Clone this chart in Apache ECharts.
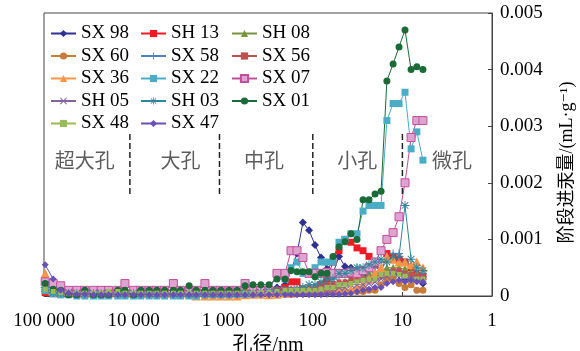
<!DOCTYPE html>
<html>
<head>
<meta charset="utf-8">
<script src="https://cdn.jsdelivr.net/npm/echarts@6/dist/echarts.min.js"></script>
<style>
html, body { margin: 0; padding: 0; background: #fff; }
#chart { width: 580px; height: 351px; }
</style>
</head>
<body>
<div id="chart"></div>
<script>
// pore diameter (nm), shared by all samples
const poreSize = [97000, 79000, 65000, 53000, 43000, 35000, 28000, 23000, 19000, 15000, 12500, 10000, 8300, 6700, 5500, 4500, 3600, 3000, 2400, 2000, 1600, 1300, 1060, 860, 700, 570, 465, 380, 308, 251, 204,
  175, 150, 129, 110, 94.5, 81, 69.4, 59.5, 51, 43.7, 37.5, 32.1, 27.5, 23.6, 20.2, 17.3, 14.9, 12.7, 10.9, 9.35, 8.0, 6.9, 5.9]

// stage intrusion volume (mL/g)
const sx98 = [0.00008, 0.00006, 0.00005, 0.00005, 0.00004, 0.00005, 0.00004, 0.00005, 0.00004, 0.00005, 0.00004, 0.00005, 0.00004, 0.00004, 0.00005, 0.00004, 0.00004, 0.00005, 0.00004, 0.00004, 0.00005, 0.00004, 0.00004, 0.00005, 0.00006, 0.00005, 0.00006, 0.00008, 0.0001, 0.00015, 0.0002,
  0.00045, 0.00075, 0.0013, 0.00116, 0.0009, 0.00068, 0.00048, 0.0004, 0.0007, 0.00052, 0.0005, 0.0004, 0.00035, 0.0003, 0.0003, 0.00038, 0.00045, 0.0004, 0.00038, 0.0003, 0.0003, 0.00028, 0.00022]
const sh13 = [0.00006, 0.00004, 0.00003, 0.00003, 0.00003, 0.00003, 0.00003, 0.00003, 0.00003, 0.00003, 0.00003, 0.00003, 0.00003, 0.00003, 0.00003, 0.00003, 0.00003, 0.00003, 0.00003, 0.00003, 0.00003, 0.00003, 0.00003, 0.00003, 0.00004, 0.00004, 0.00005, 0.00006, 0.00008, 0.0001, 0.00015,
  0.00025, 0.00025, 0.0001, 0.0001, 0.0001, 0.0002, 0.0003, 0.0006, 0.0008, 0.001, 0.00095, 0.00085, 0.0008, 0.0007, 0.00055, 0.0004, 0.00075, 0.0007, 0.00065, 0.0006, 0.0005, 0.0004, 0.00035]
const sh08 = [0.0001, 0.00008, 0.00006, 0.00005, 0.00005, 0.00005, 0.00005, 0.00006, 0.00005, 0.00005, 0.00005, 0.00006, 0.00005, 0.00005, 0.00005, 0.00005, 0.00006, 0.00005, 0.00005, 0.00005, 0.00005, 0.00006, 0.00005, 0.00005, 0.00005, 0.00006, 0.00006, 0.00007, 0.00008, 0.0001, 0.0001,
  0.0001, 0.0001, 0.00012, 0.0001, 0.00012, 0.00015, 0.00015, 0.0002, 0.0002, 0.00025, 0.0003, 0.0003, 0.00035, 0.0004, 0.00042, 0.00045, 0.0005, 0.0005, 0.0005, 0.00048, 0.00042, 0.0004, 0.00035]
const sx60 = [0.0003, 0.00012, 0.00008, 0.00006, 0.00005, 0.00005, 0.00004, 0.00004, 0.00005, 0.00004, 0.00004, 0.00004, 0.00005, 0.00004, 0.00004, 0.00004, 0.00004, 0.00005, 0.00004, 0.00004, 0.00004, 0.00004, 0.00005, 0.00004, 0.00004, 0.00004, 0.00005, 0.00005, 0.00006, 0.00006, 0.00007,
  0.00006, 0.00006, 0.00006, 0.00005, 0.00005, 0.00006, 0.00006, 0.00006, 0.00007, 0.00007, 0.00008, 0.00008, 0.00008, 0.0001, 0.0001, 0.0002, 0.0003, 0.0003, 0.00022, 0.00015, 0.0002, 0.0001, 0.0001]
const sx58 = [0.00012, 0.00008, 0.00006, 0.00005, 0.00005, 0.00005, 0.00005, 0.00005, 0.00005, 0.00005, 0.00005, 0.00005, 0.00005, 0.00005, 0.00005, 0.00005, 0.00005, 0.00005, 0.00005, 0.00005, 0.00005, 0.00005, 0.00005, 0.00005, 0.00005, 0.00005, 0.00006, 0.00006, 0.00008, 0.0001, 0.0001,
  0.0001, 0.0001, 0.00012, 0.0001, 0.00015, 0.0002, 0.00022, 0.0003, 0.00035, 0.0004, 0.00045, 0.0005, 0.0004, 0.00045, 0.0005, 0.0006, 0.0006, 0.00075, 0.00075, 0.0006, 0.00055, 0.00045, 0.0004]
const sx56 = [0.0001, 0.0001, 0.0001, 0.0001, 0.0001, 0.0001, 0.0001, 0.00012, 0.00012, 0.0001, 0.0001, 0.0001, 0.0001, 0.0001, 0.0001, 0.0001, 0.0001, 0.0001, 0.0001, 0.0001, 0.0001, 0.0001, 0.0001, 0.0001, 0.0001, 0.0001, 0.0001, 0.0001, 0.00011, 0.00012, 0.00012,
  0.00012, 0.00012, 0.00015, 0.00015, 0.00015, 0.0002, 0.0002, 0.00022, 0.00025, 0.00025, 0.0003, 0.0003, 0.0003, 0.00032, 0.00035, 0.00035, 0.0004, 0.00045, 0.00045, 0.0004, 0.00038, 0.00035, 0.00035]
const sx36 = [0.0004, 0.00015, 0.0001, 0.00008, 0.00006, 0.00005, 0.00005, 0.00005, 0.00005, 0.00005, 0.00005, 0.00005, 0.00005, 0.00005, 0.00005, 0.00005, 0.00005, 0.00005, 0.00003, 0, 0, 0, 0, 0, 0, 0.00002, 0.00003, 0.00003, 0.00002, 0.00003, 0.00005,
  0.00005, 0.0001, 0.00012, 0.0001, 0.00008, 0.0001, 0.0001, 0.00012, 0.0001, 0.0001, 0.00012, 0.00015, 0.0002, 0.0003, 0.0004, 0.0005, 0.0007, 0.00065, 0.0006, 0.0006, 0.00055, 0.0006, 0.0005]
const sx22 = [0.0001, 0.00004, 0.00002, 0.00002, 0, 0, 0, 0, 0, 0, 0, 0, 0, 0, 0, 0, 0, 0, 0, 0, 0.00002, 0.00002, 0.00002, 0.00002, 0.00003, 0.00003, 0.00004, 0.00005, 0.0001, 0.0004, 0.0003,
  0.0005, 0.0006, 0.0004, 0.0004, 0.0005, 0.0006, 0.0006, 0.0006, 0.00095, 0.001, 0.0011, 0.0011, 0.0015, 0.0016, 0.0016, 0.0016, 0.0031, 0.0034, 0.0034, 0.0036, 0.0026, 0.0029, 0.0024]
const sx07 = [0.00025, 0.00022, 0.00018, 0.0001, 0.0001, 0.0001, 0.0001, 0.0001, 0.0001, 0.0001, 0.00022, 0.0001, 0.0001, 0.0001, 0.0001, 0.0001, 0.00022, 0.0001, 0.0001, 0.0001, 0.00022, 0.0001, 0.0001, 0.0001, 0.0001, 0.00022, 0.0001, 0.0001, 0.0001, 0.0004, 0.0004,
  0.0008, 0.0008, 0.00068, 0.0004, 0.0004, 0.0004, 0.00042, 0.0004, 0.0004, 0.0004, 0.00042, 0.0004, 0.00045, 0.0005, 0.0006, 0.0008, 0.001, 0.00112, 0.0014, 0.002, 0.0028, 0.0031, 0.0031]
const sh05 = [0.0002, 0.0001, 0.00008, 0.00006, 0.00005, 0.00005, 0.00005, 0.00005, 0.00005, 0.00005, 0.00005, 0.00005, 0.00005, 0.00005, 0.00005, 0.00005, 0.00005, 0.00005, 0.00005, 0.00005, 0.00005, 0.00005, 0.00005, 0.00005, 0.00005, 0.00005, 0.00005, 0.00006, 0.00006, 0.00008, 0.0001,
  0.00005, 0.00005, 0.00008, 0.0001, 0.0001, 0.0001, 0.00012, 0.00012, 0.00015, 0.00015, 0.0002, 0.0002, 0.0002, 0.00022, 0.00025, 0.0003, 0.00035, 0.0004, 0.00038, 0.00035, 0.0003, 0.0003, 0.00028]
const sh03 = [0.00015, 0.00006, 0.00005, 0.00004, 0.00004, 0.00004, 0.00004, 0.00004, 0.00004, 0.00004, 0.00004, 0.00004, 0.00004, 0.00004, 0.00004, 0.00004, 0.00004, 0.00004, 0.00004, 0.00004, 0.00004, 0.00004, 0.00004, 0.00004, 0.00004, 0.00005, 0.00005, 0.00006, 0.00008, 0.0001, 0.0001,
  0.0001, 0.00012, 0.00015, 0.0002, 0.0002, 0.00025, 0.0003, 0.0003, 0.0004, 0.0004, 0.00045, 0.0005, 0.0005, 0.00055, 0.0006, 0.00065, 0.0006, 0.0007, 0.0007, 0.0016, 0.00065, 0.0005, 0.00045]
const sx01 = [0.00022, 0.00012, 0.0001, 0.00002, 0.00002, 0.0001, 0.00002, 0.00002, 0.00002, 0.0001, 0.0001, 0.00002, 0.0001, 0.0001, 0.0001, 0.0001, 0.0001, 0.0001, 0.00018, 0.0001, 0.0001, 0.0001, 0.0001, 0.0001, 0.0001, 0.00018, 0.0002, 0.0002, 0.0002, 0.0003, 0.0003,
  0.00045, 0.00043, 0.00043, 0.00043, 0.00034, 0.0004, 0.0004, 0.0007, 0.00087, 0.00096, 0.0011, 0.001, 0.0017, 0.0017, 0.0018, 0.00185, 0.0038, 0.0041, 0.0044, 0.0047, 0.004, 0.00405, 0.004]
const sx48 = [0.00012, 0.00008, 0.00006, 0.00005, 0.00005, 0.00005, 0.00005, 0.00005, 0.00008, 0.00008, 0.00005, 0.00005, 0.00005, 0.00005, 0.00005, 0.00005, 0.00005, 0.00005, 0.00005, 0.00005, 0.00005, 0.00005, 0.00005, 0.00005, 0.00005, 0.00005, 0.00005, 0.00006, 0.00006, 0.00008, 0.0001,
  0.0001, 0.0001, 0.0001, 0.0001, 0.0001, 0.00012, 0.00015, 0.00015, 0.0002, 0.0002, 0.00022, 0.00025, 0.00028, 0.0003, 0.0003, 0.00038, 0.0004, 0.0004, 0.00038, 0.00035, 0.00028, 0.0003, 0.0003]
const sx47 = [0.00055, 0.0003, 0.0001, 0.00005, 0.00003, 0.00003, 0.00002, 0.00002, 0.00002, 0.00002, 0.00002, 0.00002, 0.00002, 0.00002, 0.00002, 0.00002, 0.00002, 0.00002, 0.00002, 0.00002, 0.00002, 0.00002, 0.00002, 0.00002, 0.00002, 0.00002, 0.00002, 0.00002, 0.00002, 0.00002, 0.00002,
  0.00002, 0.00002, 0.00002, 0.00002, 0.00002, 0.00002, 0.00003, 0.00003, 0.00003, 0.00004, 0.00005, 0.00008, 0.0001, 0.00012, 0.00015, 0.00015, 0.00022, 0.00025, 0.00028, 0.00025, 0.00028, 0.00025, 0.00025]

const sampleNames = ['SX 98', 'SH 13', 'SH 08', 'SX 60', 'SX 58', 'SX 56', 'SX 36', 'SX 22', 'SX 07', 'SH 05', 'SH 03', 'SX 01', 'SX 48', 'SX 47']
const sampleValues = [sx98, sh13, sh08, sx60, sx58, sx56, sx36, sx22, sx07, sh05, sh03, sx01, sx48, sx47]

// legend columns
const legendCols = [
  ['SX 98', 'SX 60', 'SX 36', 'SH 05', 'SX 48'],
  ['SH 13', 'SX 58', 'SX 22', 'SH 03', 'SX 47'],
  ['SH 08', 'SX 56', 'SX 07', 'SX 01']
]

// pore class boundaries and labels
const boundarySize = [11000, 1100, 100, 10]
const boundaryRange = [0.0018, 0.0029]
const classNames = ['超大孔', '大孔', '中孔', '小孔', '微孔']
const classSize = [35000, 3000, 350, 32, 2.8]
const classLevel = 0.0024

const xTicks = { 100000: '100 000', 10000: '10 000', 1000: '1 000', 100: '100', 10: '10', 1: '1' }

const plusPath = 'path://M4.4,0h1.2v4.4H10v1.2H5.6V10H4.4V5.6H0V4.4h4.4z'
const crossPath = 'path://M1,0L5,4L9,0L10,1L6,5L10,9L9,10L5,6L1,10L0,9L4,5L0,1Z'
const starPath = 'path://M4.5,0h1v3.8L8.3,1l0.7,0.7L6.2,4.5H10v1H6.2L9,8.3L8.3,9L5.5,6.2V10h-1V6.2L1.7,9L1,8.3L3.8,5.5H0v-1h3.8L1,1.7L1.7,1L4.5,3.8z'

const styles = {
  'SX 98': { color: '#2e3192', symbol: 'diamond', size: 8 },
  'SH 13': { color: '#ed1c24', symbol: 'rect', size: 7 },
  'SH 08': { color: '#77933c', symbol: 'triangle', size: 8 },
  'SX 60': { color: '#c77c3a', symbol: 'circle', size: 7 },
  'SX 58': { color: '#4f81bd', symbol: plusPath, size: 8 },
  'SX 56': { color: '#c0504d', symbol: 'rect', size: 5 },
  'SX 36': { color: '#f79646', symbol: 'triangle', size: 9 },
  'SX 22': { color: '#4bacc6', symbol: 'rect', size: 7 },
  'SX 07': { color: '#c0509c', symbol: 'rect', size: 8, fill: '#dfa3cf' },
  'SH 05': { color: '#8064a2', symbol: crossPath, size: 8 },
  'SH 03': { color: '#31859c', symbol: starPath, size: 9 },
  'SX 01': { color: '#1a6b38', symbol: 'circle', size: 7 },
  'SX 48': { color: '#9bbb59', symbol: 'rect', size: 5 },
  'SX 47': { color: '#6a4fb5', symbol: 'diamond', size: 7 }
}

const serif = "'Liberation Serif', 'DejaVu Serif', 'Noto Sans CJK SC'"

const chart = echarts.init(document.getElementById('chart'))

const series = sampleNames.map((name, i) => {
  const st = styles[name]
  return {
    name,
    type: 'line',
    data: poreSize.map((d, j) => [d, sampleValues[i][j]]),
    symbol: st.symbol,
    symbolSize: st.size,
    lineStyle: { color: st.color, width: 1 },
    itemStyle: st.fill
      ? { color: st.fill, borderColor: st.color, borderWidth: 1 }
      : { color: st.color, borderWidth: 0 },
    clip: false,
    animation: false
  }
})

boundarySize.forEach(b => {
  series.push({
    type: 'line',
    data: boundaryRange.map(v => [b, v]),
    symbol: 'none',
    silent: true,
    lineStyle: { color: '#222', width: 1.5, type: [6, 3] },
    animation: false
  })
})

series.push({
  type: 'scatter',
  data: classNames.map((n, i) => ({ name: n, value: [classSize[i], classLevel] })),
  symbolSize: 0,
  silent: true,
  label: {
    show: true,
    position: 'inside',
    formatter: p => p.name,
    fontFamily: 'Noto Sans CJK SC',
    fontSize: 20,
    color: '#333'
  },
  animation: false
})

const legends = legendCols.map((col, i) => ({
  data: col,
  orient: 'vertical',
  left: [50, 140, 231][i],
  top: 24,
  padding: 0,
  itemGap: 3.5,
  itemWidth: 25,
  itemHeight: 9,
  textStyle: { fontFamily: serif, fontSize: 19, color: '#000' }
}))

chart.setOption({
  backgroundColor: '#fff',
  animation: false,
  legend: legends,
  grid: {
    left: 44, right: 88, top: 13, bottom: 55,
    outerBoundsMode: 'none',
    containLabel: false,
    show: true, borderColor: '#444', borderWidth: 1
  },
  xAxis: {
    type: 'log',
    logBase: 10,
    min: 1,
    max: 100000,
    inverse: true,
    name: '孔径/nm',
    nameLocation: 'middle',
    nameGap: 35,
    nameTextStyle: { fontFamily: serif, fontSize: 20, color: '#000' },
    axisLine: { lineStyle: { color: '#444' } },
    axisTick: { inside: true, length: 4, lineStyle: { color: '#444' } },
    minorTick: { show: false },
    splitLine: { show: false },
    axisLabel: {
      fontFamily: serif,
      fontSize: 19,
      color: '#000',
      margin: 16,
      formatter: v => xTicks[Math.round(v)] || ''
    }
  },
  yAxis: {
    type: 'value',
    position: 'right',
    min: 0,
    max: 0.005,
    interval: 0.001,
    name: '阶段进汞量/(mL·g⁻¹)',
    nameLocation: 'middle',
    nameRotate: 90,
    nameGap: 66,
    nameTextStyle: { fontFamily: serif, fontSize: 18, color: '#000', padding: [0, 16, 0, 0] },
    axisLine: { show: true, lineStyle: { color: '#444' } },
    axisTick: { show: true, inside: true, length: 4, lineStyle: { color: '#444' } },
    splitLine: { show: false },
    axisLabel: { fontFamily: serif, fontSize: 19, color: '#000', margin: 8 }
  },
  series
})
</script>
</body>
</html>
